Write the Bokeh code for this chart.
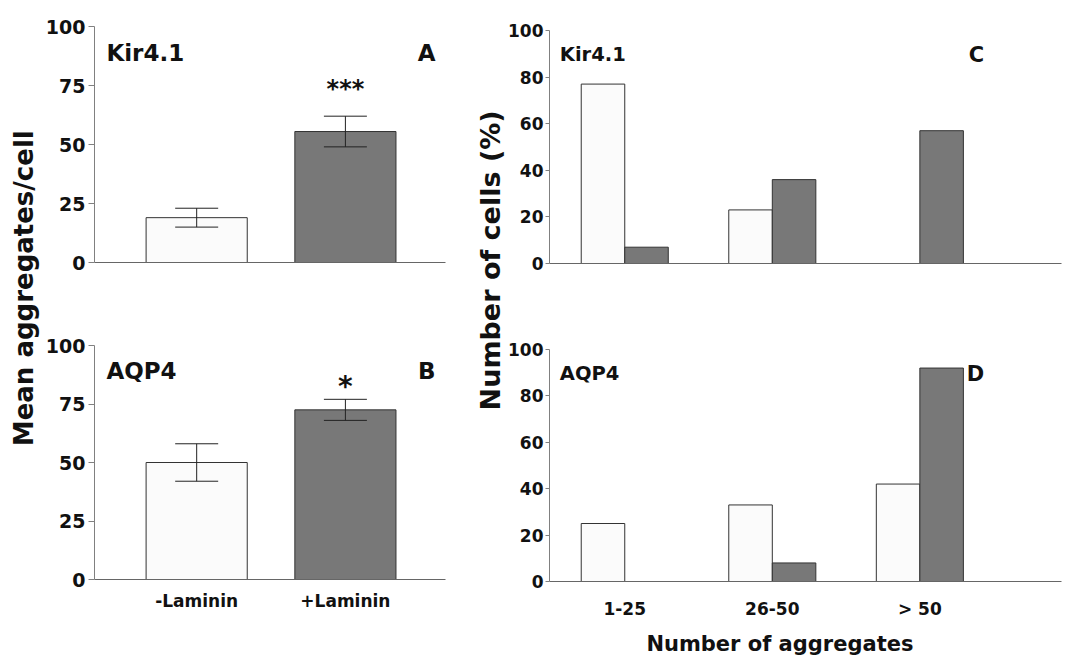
from math import pi
from bokeh.plotting import figure
from bokeh.models import Label, Whisker, ColumnDataSource, FixedTicker, TeeHead
from bokeh.layouts import row, column
from bokeh.embed import file_html
from bokeh.resources import INLINE
from bokeh.core.properties import value

# ---------------- data ----------------
treatments = ["-Laminin", "+Laminin"]
kir_mean = [19, 55.5]
kir_err = [4, 6.5]
aqp_mean = [50, 72.5]
aqp_err = [8, 4.5]
kir_sig = "***"
aqp_sig = "*"

bins = ["1-25", "26-50", "> 50"]
kir_minus = [77, 23, 0]
kir_plus = [7, 36, 57]
aqp_minus = [25, 33, 42]
aqp_plus = [0, 8, 92]

left_ylabel = "Mean aggregates/cell"
right_ylabel = "Number of cells (%)"
right_xlabel = "Number of aggregates"

# ---------------- style ----------------
FONT = "DejaVu Sans"
TXT = "#111111"
WHITE = "#fbfbfb"
GREY = "#787878"
EDGE = "#333333"
AXIS = "#808080"
TOTAL_H = 663


def base_panel(width, height, xr, mbl, mbr, mbt, mbb, yticks, tick_size, tick_out, standoff):
    p = figure(width=width, height=height, x_range=xr, y_range=(0, 100),
               toolbar_location=None, output_backend="svg",
               min_border_left=mbl, min_border_right=mbr,
               min_border_top=mbt, min_border_bottom=mbb)
    p.xgrid.visible = False
    p.ygrid.visible = False
    p.outline_line_color = None
    p.background_fill_color = "white"
    p.border_fill_color = "white"
    for ax in (p.xaxis[0], p.yaxis[0]):
        ax.axis_line_color = AXIS
        ax.axis_line_width = 1
        ax.minor_tick_line_color = None
        ax.major_label_text_font = FONT
        ax.major_label_text_font_style = "bold"
        ax.major_label_text_color = TXT
    p.xaxis.axis_line_color = "#666666"
    p.yaxis.ticker = FixedTicker(ticks=yticks)
    p.yaxis.major_tick_line_color = AXIS
    p.yaxis.major_tick_out = tick_out
    p.yaxis.major_tick_in = 0
    p.yaxis.major_label_standoff = standoff
    p.yaxis.major_label_text_font_size = tick_size
    p.xaxis.major_tick_line_color = None
    p.xaxis.major_tick_out = 0
    p.xaxis.major_tick_in = 0
    return p


def add_label(p, x, y, text, size, align="left", baseline="middle"):
    p.add_layout(Label(x=x, y=y, text=text, text_font=FONT, text_font_style="bold",
                       text_font_size=size, text_color=TXT, text_align=align,
                       text_baseline=baseline))


# ---------------- left panels (A, B) ----------------
LX = (-0.687, 1.673)
xs_lr = list(range(len(treatments)))


def mean_panel(height, mbt, mbb, means, errs, name, letter, sig, sig_y, sig_size, show_x, lab_y):
    p = base_panel(418, height, LX, 49, 15, mbt, mbb, [0, 25, 50, 75, 100], "19px", 6, 3)
    src = ColumnDataSource(dict(x=xs_lr, top=means,
                                upper=[m + e for m, e in zip(means, errs)],
                                lower=[m - e for m, e in zip(means, errs)],
                                color=[WHITE, GREY]))
    p.vbar(x="x", top="top", bottom=0, width=0.68, source=src, fill_color="color",
           line_color=EDGE, line_width=1)
    p.add_layout(Whisker(source=src, base="x", upper="upper", lower="lower",
                         level="overlay", line_color="#222222", line_width=1,
                         upper_head=TeeHead(size=43, line_color="#222222", line_width=1),
                         lower_head=TeeHead(size=43, line_color="#222222", line_width=1)))
    if show_x:
        p.xaxis.ticker = FixedTicker(ticks=xs_lr)
        p.xaxis.major_label_overrides = {i: t for i, t in zip(xs_lr, treatments)}
        p.xaxis.major_label_text_font_size = "17px"
        p.xaxis.major_label_standoff = 11
    else:
        p.xaxis.ticker = FixedTicker(ticks=[])
    add_label(p, -0.607, lab_y, name, "23px")
    add_label(p, 1.606, lab_y, letter, "23px", align="right")
    add_label(p, 1.0, sig_y, sig, sig_size, align="center", baseline="alphabetic")
    return p


pA = mean_panel(292, 26, 30, kir_mean, kir_err, "Kir4.1", "A", kir_sig, 73.5, "24px", False, 88.6)
pB = mean_panel(371, 53, 84, aqp_mean, aqp_err, "AQP4", "B", aqp_sig, 82.3, "28px", True, 89.3)

# ---------------- right panels (C, D) ----------------
RX = (-0.51, 2.96)
xs_bins = list(range(len(bins)))
BW = 0.295


def dist_panel(height, mbt, mbb, minus, plus, name, letter, show_x):
    p = base_panel(558, height, RX, 41, 2, mbt, mbb, [0, 20, 40, 60, 80, 100], "17px", 4, 2)
    p.vbar(x=[x - BW / 2 for x in xs_bins], top=minus, bottom=0, width=BW,
           fill_color=WHITE, line_color=EDGE, line_width=1)
    p.vbar(x=[x + BW / 2 for x in xs_bins], top=plus, bottom=0, width=BW,
           fill_color=GREY, line_color=EDGE, line_width=1)
    if show_x:
        p.xaxis.ticker = FixedTicker(ticks=xs_bins)
        p.xaxis.major_label_overrides = {i: t for i, t in zip(xs_bins, bins)}
        p.xaxis.major_label_text_font_size = "17px"
        p.xaxis.major_label_standoff = 17
    else:
        p.xaxis.ticker = FixedTicker(ticks=[])
    add_label(p, -0.44, 89.5, name, "19.5px")
    add_label(p, 2.436, 89.5, letter, "21px", align="right")
    return p


pC = dist_panel(300, 30, 37, kir_minus, kir_plus, "Kir4.1", "C", False)
pD = dist_panel(323, 49, 42, aqp_minus, aqp_plus, "AQP4", "D", True)


# ---------------- shared titles ----------------
def strip(width, height, xpos, ypos, text, size, angle):
    s = figure(width=width, height=height, x_range=(0, 1), y_range=(0, 1),
               toolbar_location=None, output_backend="svg",
               x_axis_location=None, y_axis_location=None, min_border=0)
    s.grid.visible = False
    s.outline_line_color = None
    s.text(x=[xpos], y=[ypos], text=[text], angle=angle, text_align="center",
           text_baseline="middle", text_font=value(FONT), text_font_style="bold",
           text_font_size=size, text_color=TXT)
    return s


s1 = strip(42, TOTAL_H, 0.571, 0.566, left_ylabel, "26px", pi / 2)
s2 = strip(45, TOTAL_H, 0.667, 0.608, right_ylabel, "27px", pi / 2)
s3 = strip(558, 40, 0.45, 0.5, right_xlabel, "21px", 0)

layout = row(s1, column(pA, pB), s2, column(pC, pD, s3))

open("out.html", "w").write(file_html(layout, INLINE))
